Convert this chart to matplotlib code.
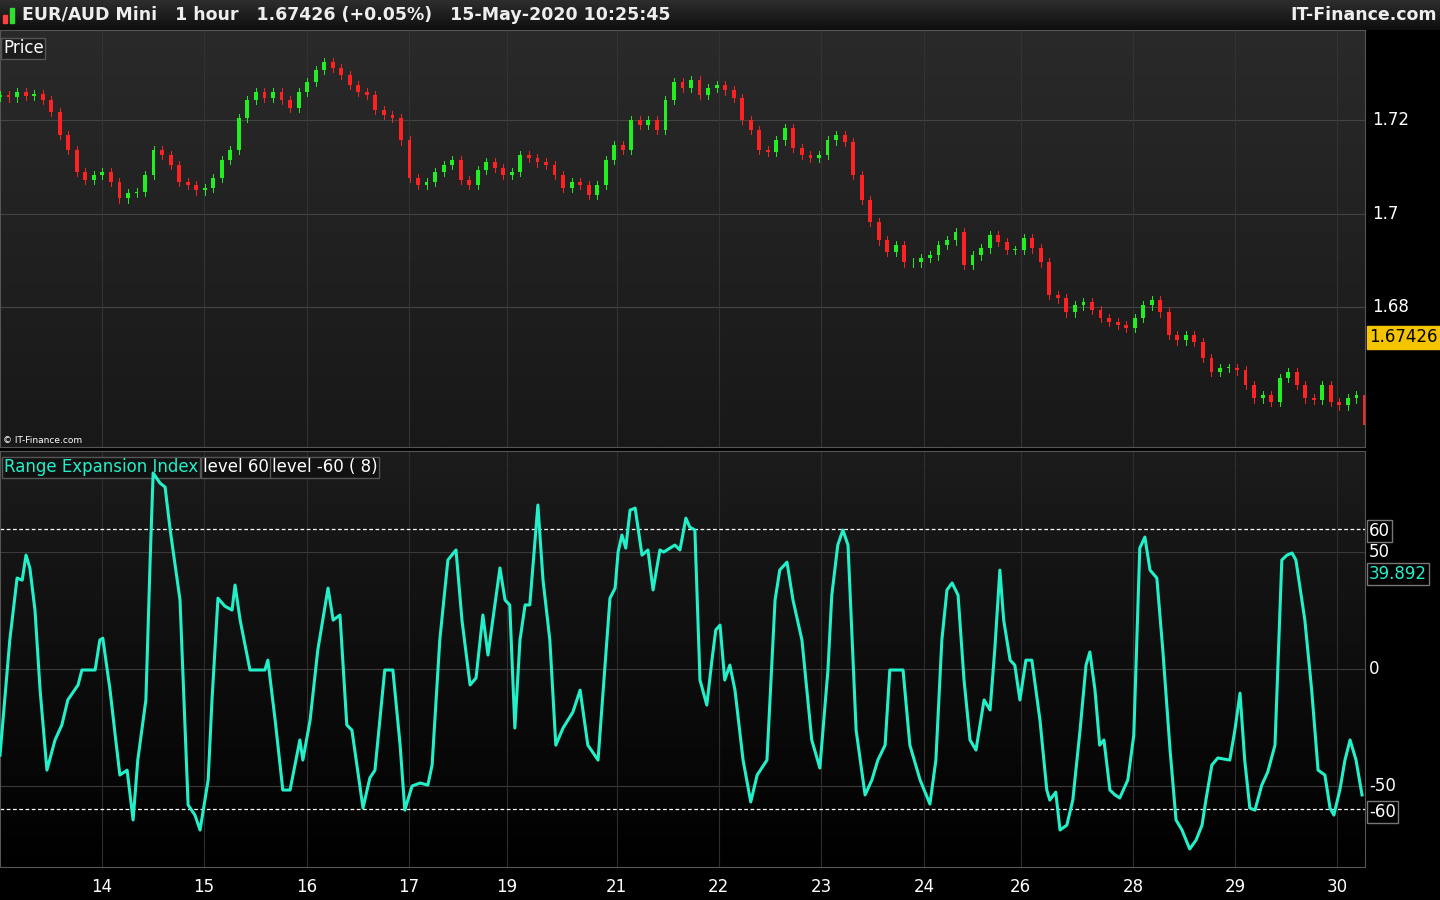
import matplotlib
matplotlib.use("Agg")
import matplotlib.pyplot as plt
import numpy as np

# ---- data ----
closes = [1.7254,1.7249,1.7260,1.7252,1.7256,1.7243,1.7217,1.7168,1.7136,1.7089,1.7072,1.7083,1.7089,1.7068,1.7033,1.7044,1.7046,1.7083,1.7136,1.7125,
1.7104,1.7068,1.7061,1.7050,1.7055,1.7076,1.7115,1.7136,1.7205,1.7243,1.7260,1.7247,1.7260,1.7243,1.7226,1.7260,1.7282,1.7307,1.7324,1.7312,
1.7297,1.7275,1.7260,1.7254,1.7222,1.7211,1.7205,1.7157,1.7076,1.7061,1.7068,1.7089,1.7104,1.7115,1.7072,1.7061,1.7093,1.7110,1.7098,1.7083,
1.7089,1.7125,1.7119,1.7110,1.7104,1.7083,1.7055,1.7068,1.7061,1.7040,1.7061,1.7115,1.7147,1.7136,1.7200,1.7190,1.7200,1.7179,1.7243,1.7282,
1.7269,1.7286,1.7254,1.7269,1.7275,1.7264,1.7247,1.7200,1.7179,1.7136,1.7132,1.7157,1.7183,1.7140,1.7125,1.7119,1.7125,1.7157,1.7168,1.7153,
1.7083,1.7029,1.6982,1.6943,1.6918,1.6933,1.6896,1.6896,1.6905,1.6911,1.6933,1.6943,1.6961,1.6890,1.6911,1.6926,1.6954,1.6939,1.6922,1.6922,
1.6948,1.6926,1.6896,1.6826,1.6819,1.6789,1.6804,1.6811,1.6794,1.6777,1.6768,1.6762,1.6755,1.6777,1.6804,1.6815,1.6789,1.6740,1.6729,1.6740,
1.6725,1.6691,1.6661,1.6670,1.6670,1.6665,1.6633,1.6605,1.6612,1.6597,1.6648,1.6661,1.6633,1.6605,1.6601,1.6633,1.6597,1.6590,1.6605,1.6612,
1.6548]
first_open = 1.7250

rei_hour = [0,2.3,4.0,5.2,6.1,7.0,8.2,9.4,11.0,12.9,14.5,15.9,18.3,19.2,22.3,23.4,24.1,25.8,27.0,28.1,29.8,31.2,32.3,34.2,35.2,35.9,37.5,38.7,39.9,42.2,
44.1,45.7,46.9,48.8,49.7,51.1,52.7,54.4,55.1,56.3,58.6,62.1,62.8,64.5,66.3,68.0,70.3,71.0,72.7,74.5,76.9,78.1,79.7,81.3,82.5,85.1,86.7,87.9,90.2,92.1,
93.8,94.9,96.6,98.5,100.3,101.3,103.1,105.0,106.9,108.3,110.2,111.6,113.2,114.4,116.0,117.2,118.4,119.5,120.7,121.9,123.1,124.2,126.1,127.3,128.9,130.3,132.0,134.3,136.0,137.8,
140.2,141.4,143.0,144.2,144.9,145.8,146.7,147.7,148.9,150.5,151.9,153.1,154.7,155.6,157.1,158.2,159.4,160.8,161.7,162.9,164.1,165.7,166.9,167.8,168.8,169.9,171.1,172.3,174.2,176.0,
177.5,179.8,181.7,182.8,184.5,185.9,188.0,190.3,192.2,194.1,195.0,196.4,197.6,198.8,200.7,202.8,204.4,205.8,207.5,208.6,211.7,213.3,215.7,218.0,219.4,220.8,222.0,223.2,224.6,226.0,
227.4,228.8,230.7,232.1,233.2,234.4,235.3,236.8,237.9,239.1,240.5,241.9,243.8,245.4,246.1,247.5,248.5,250.1,251.5,253.2,254.6,255.5,256.7,257.8,258.8,260.2,261.4,262.5,264.4,265.8,
267.2,268.4,269.6,271.2,272.6,274.3,275.7,277.1,278.9,280.4,281.8,282.7,284.1,285.5,288.3,289.5,290.7,291.8,293.0,294.2,295.8,297.2,298.9,300.5,301.7,302.9,303.8,305.9,307.5,309.0,
310.6,311.8,312.7,314.1,315.3,316.5,317.9,319.3]
rei_value = [-36.8,12.4,38.9,38.0,48.7,43.2,25.2,-9.0,-43.2,-30.3,-23.9,-13.2,-6.8,-0.4,-0.4,12.4,13.2,-9.0,-28.2,-45.3,-43.2,-64.5,-38.9,-13.2,46.6,83.8,79.5,77.8,59.4,29.5,
-58.1,-62.4,-68.8,-47.4,-13.2,30.3,26.9,25.2,35.9,20.9,-0.4,-0.4,3.8,-21.8,-51.7,-51.7,-30.3,-38.9,-21.8,8.1,34.6,20.9,23.1,-23.9,-26.1,-59.4,-46.6,-43.2,-0.4,-0.4,
-32.5,-60.3,-50.0,-48.7,-49.6,-41.0,12.4,46.6,50.9,20.9,-6.8,-3.8,23.1,6.0,27.4,43.2,29.5,27.4,-25.2,12.4,27.4,27.4,70.1,38.0,12.4,-32.5,-25.2,-18.4,-9.0,-32.5,
-38.9,-9.0,30.3,34.6,50.0,57.3,51.7,67.9,68.8,48.7,50.9,33.8,50.9,50.0,51.7,53.0,50.9,64.5,60.7,59.4,-4.7,-15.4,3.8,16.7,18.8,-4.7,1.7,-9.0,-38.9,-56.8,
-45.3,-38.9,29.5,42.3,45.7,29.5,12.4,-30.3,-42.3,-0.4,31.6,53.0,59.4,53.0,-26.1,-53.8,-47.4,-38.9,-32.5,-0.4,-0.4,-32.5,-47.4,-57.7,-38.9,12.4,33.8,36.8,31.6,-4.7,
-30.3,-34.6,-13.2,-17.5,8.1,42.3,20.9,3.8,1.7,-13.2,3.8,3.8,-21.8,-51.7,-56.0,-52.6,-68.8,-66.7,-56.0,-26.1,1.7,7.3,-9.0,-32.5,-30.3,-51.7,-53.8,-55.1,-47.4,-28.2,
51.7,56.4,42.3,38.9,8.1,-34.6,-64.5,-68.8,-76.9,-73.1,-66.7,-56.0,-41.0,-38.0,-38.9,-26.1,-10.3,-38.9,-59.4,-60.3,-49.6,-44.0,-32.5,46.6,48.7,49.6,46.6,20.9,-9.0,-43.2,
-45.3,-59.4,-62.4,-51.7,-38.9,-30.3,-38.9,-53.8]

day_labels = ["14","15","16","17","19","21","22","23","24","26","28","29","30"]
day_hours = [23.9,47.8,72.0,95.9,118.8,144.6,168.5,192.5,216.6,239.3,265.6,289.5,313.4]
price_ticks = [1.72, 1.70, 1.68]
price_tick_labels = ["1.72", "1.7", "1.68"]
rei_ticks = [50, 0, -50]
levels = [60, -60]
last_price = 1.67426
last_rei = 39.892

# ---- figure ----
W, H = 1440, 900
fig = plt.figure(figsize=(W/100, H/100), dpi=100, facecolor="black")
XMAX = 320
LINE = "#22f0c8"

def gradient(ax, top, bottom):
    g = np.linspace(0, 1, 256)[:, None]
    c0 = np.array(matplotlib.colors.to_rgb(top)); c1 = np.array(matplotlib.colors.to_rgb(bottom))
    img = c0[None, None, :] * (1 - g[:, :, None]) + c1[None, None, :] * g[:, :, None]
    ax.imshow(img, extent=[0, 1, 0, 1], transform=ax.transAxes, aspect="auto", zorder=-10)

# header
hdr = fig.add_axes([0, 1 - 30/H, 1, 30/H])
hdr.axis("off")
gradient(hdr, "#2e2e2e", "#0e0e0e")
hdr.text(22/W, 0.5, "EUR/AUD Mini   1 hour   1.67426 (+0.05%)   15-May-2020 10:25:45",
         color="#eeeeee", fontsize=12.5, fontweight="semibold", va="center", ha="left", transform=hdr.transAxes)
hdr.text(1 - 3/W, 0.5, "IT-Finance.com", color="#eeeeee", fontsize=12.5, fontweight="semibold", va="center", ha="right",
         transform=hdr.transAxes)
hdr.add_patch(plt.Rectangle((3/W, 0.25), 4/W, 0.25, color="#ff4040", transform=hdr.transAxes))
hdr.add_patch(plt.Rectangle((10/W, 0.25), 4/W, 0.5, color="#30e030", transform=hdr.transAxes))

# price panel
axp = fig.add_axes([0, 1 - 447/H, 1365/W, 417/H])
gradient(axp, "#2a2a2a", "#181818")
axp.set_xlim(0, XMAX)
axp.set_ylim(1.6501, 1.7393)
opens = [first_open] + closes[:-1]
xs = np.arange(len(closes)) * 2.0
for x, o, c in zip(xs, opens, closes):
    col = "#22ee22" if c >= o else "#ff2222"
    hi = max(o, c) + 0.0009; lo = min(o, c) - 0.0009
    axp.plot([x, x], [lo, hi], color=col, lw=0.7, zorder=3)
    axp.add_patch(plt.Rectangle((x - 0.45, min(o, c)), 0.9, max(abs(c - o), 0.00015), color=col, lw=0, zorder=4))
for p in price_ticks:
    axp.axhline(p, color="#444444", lw=0.8, zorder=1)
for d in day_hours:
    axp.axvline(d, color="#333333", lw=0.8, zorder=1)
axp.set_xticks([]); axp.set_yticks([])
for s in axp.spines.values():
    s.set_color("#555555")
for p, l in zip(price_ticks, price_tick_labels):
    axp.text(1.005, (p - 1.6501)/(1.7393 - 1.6501), l, transform=axp.transAxes, color="white",
             fontsize=12, va="center", ha="left", clip_on=False)
axp.text(1.003, (last_price - 1.6501)/(1.7393 - 1.6501) - 0.008, "1.67426", transform=axp.transAxes,
         color="black", fontsize=12, va="center", ha="left",
         bbox=dict(boxstyle="square,pad=0.15", fc="#f5c400", ec="#f5c400"))
axp.text(3/1365, 0.978, "Price", transform=axp.transAxes, color="white", fontsize=12, va="top",
         bbox=dict(boxstyle="square,pad=0.1", fc="#1c1c1c", ec="#555555"))
axp.text(3/1365, 0.005, "© IT-Finance.com", transform=axp.transAxes, color="white", fontsize=6.5, va="bottom")

# indicator panel
axi = fig.add_axes([0, 1 - 867/H, 1365/W, 416/H])
gradient(axi, "#1c1c1c", "#000000")
axi.set_xlim(0, XMAX)
axi.set_ylim(-84.6, 93.2)
for t in rei_ticks:
    axi.axhline(t, color="#3a3a3a", lw=0.8, zorder=1)
for d in day_hours:
    axi.axvline(d, color="#2e2e2e", lw=0.8, zorder=1)
for lv in levels:
    axi.axhline(lv, color="white", lw=0.9, ls=(0, (3, 2)), zorder=2)
axi.plot(rei_hour, rei_value, color=LINE, lw=2.2, zorder=5, solid_joinstyle="round")
axi.set_yticks([]); axi.set_xticks(day_hours)
axi.set_xticklabels(day_labels, color="white", fontsize=12)
axi.tick_params(axis="x", length=0, pad=8)
for s in axi.spines.values():
    s.set_color("#555555")
def yf(v): return (v + 84.6) / (93.2 + 84.6)
for t in [50, 0, -50]:
    axi.text(1.003, yf(t), str(t), transform=axi.transAxes, color="white", fontsize=12, va="center", ha="left")
for lv in levels:
    axi.text(1.003, yf(lv) - 0.006, str(lv), transform=axi.transAxes, color="white", fontsize=12, va="center", ha="left",
             bbox=dict(boxstyle="square,pad=0.12", fc="black", ec="#777777"))
axi.text(1.003, yf(last_rei) + 0.005, "39.892", transform=axi.transAxes, color=LINE, fontsize=12, va="center", ha="left",
         bbox=dict(boxstyle="square,pad=0.12", fc="black", ec="#777777"))
box = dict(boxstyle="square,pad=0.1", fc="#111111", ec="#555555")
axi.text(4/1365, 0.982, "Range Expansion Index", transform=axi.transAxes, color=LINE, fontsize=12, va="top", bbox=box)
axi.text(203/1365, 0.982, "level 60", transform=axi.transAxes, color="white", fontsize=12, va="top", bbox=box)
axi.text(272/1365, 0.982, "level -60 ( 8)", transform=axi.transAxes, color="white", fontsize=12, va="top", bbox=box)

fig.savefig("out.png", dpi=100, facecolor="black")
